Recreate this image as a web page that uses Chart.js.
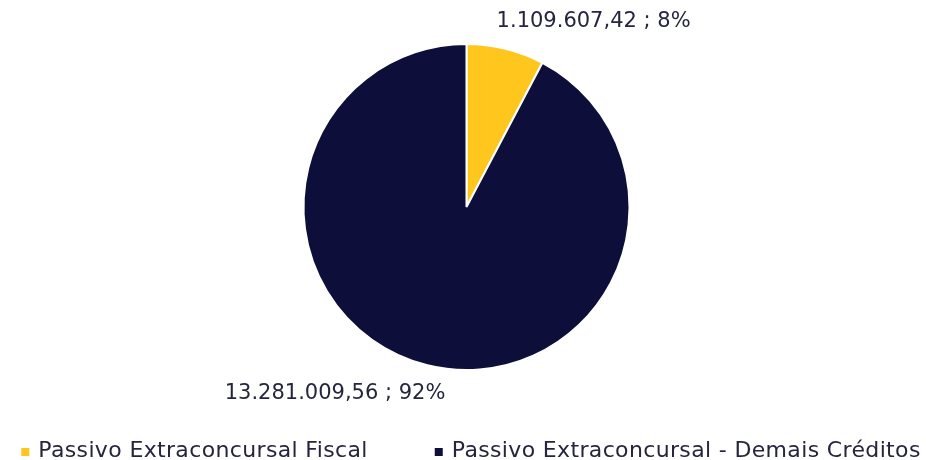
<!DOCTYPE html>
<html>
<head>
<meta charset="utf-8">
<script src="https://cdn.jsdelivr.net/npm/chart.js@4/dist/chart.umd.min.js"></script>
<style>
  html, body { margin:0; padding:0; background:#fff; }
  #wrap { width:926px; height:460px; position:relative; }
</style>
</head>
<body>
<div id="wrap"><canvas id="pie"></canvas></div>
<script>
const labels = ['Passivo Extraconcursal Fiscal', 'Passivo Extraconcursal - Demais Créditos'];
const values = [1109607.42, 13281009.56];
const colors = ['#FFC61E', '#0E0E3B'];
const valueText = ['1.109.607,42', '13.281.009,56'];

const FONT = '"DejaVu Sans", sans-serif';
const TEXT_COLOR = '#25253f';

function pct(i) {
  const tot = values.reduce((s,v) => s+v, 0);
  return Math.round(values[i]/tot*100) + '%';
}

// outside-end data labels, anchored on each arc's middle
const dataLabels = {
  id: 'dataLabels',
  afterDatasetsDraw(chart) {
    const ctx = chart.ctx;
    const meta = chart.getDatasetMeta(0);
    ctx.save();
    ctx.font = '21px ' + FONT;
    ctx.fillStyle = TEXT_COLOR;
    ctx.textBaseline = 'middle';
    meta.data.forEach((arc, i) => {
      const mid = (arc.startAngle + arc.endAngle) / 2;
      const ax = arc.x + Math.cos(mid) * arc.outerRadius;
      const ay = arc.y + Math.sin(mid) * arc.outerRadius;
      const txt = valueText[i] + ' ; ' + pct(i);
      if (i === 0) { ctx.textAlign = 'left';  ctx.fillText(txt, ax - 9, ay - 27); }
      else         { ctx.textAlign = 'right'; ctx.fillText(txt, ax + 18, ay + 28); }
    });
    ctx.restore();
  }
};

// bottom legend with small square markers
const bottomLegend = {
  id: 'bottomLegend',
  afterDraw(chart) {
    const ctx = chart.ctx;
    ctx.save();
    ctx.font = '22px ' + FONT;
    ctx.letterSpacing = '0.35px';
    ctx.textBaseline = 'middle';
    const box = 8, gapText = 9, gapItem = 67;
    const widths = labels.map(l => box + gapText + ctx.measureText(l).width);
    const total = widths.reduce((s,w) => s+w, 0) + gapItem * (labels.length - 1);
    let x = 471 - total / 2;
    const y = 452;
    labels.forEach((l, i) => {
      ctx.fillStyle = colors[i];
      ctx.fillRect(x, y - box/2, box, box);
      ctx.fillStyle = TEXT_COLOR;
      ctx.textAlign = 'left';
      ctx.fillText(l, x + box + gapText, y - 1);
      x += widths[i] + gapItem;
    });
    ctx.restore();
  }
};

new Chart(document.getElementById('pie'), {
  type: 'pie',
  data: {
    labels: labels,
    datasets: [{ data: values, backgroundColor: colors, borderColor: '#ffffff', borderWidth: 2 }]
  },
  options: {
    responsive: true, maintainAspectRatio: false, animation: false,
    layout: { padding: { top: 43, bottom: 89, left: 7, right: 0 } },
    plugins: { legend: { display: false }, tooltip: { enabled: false } }
  },
  plugins: [dataLabels, bottomLegend]
});
</script>
</body>
</html>
